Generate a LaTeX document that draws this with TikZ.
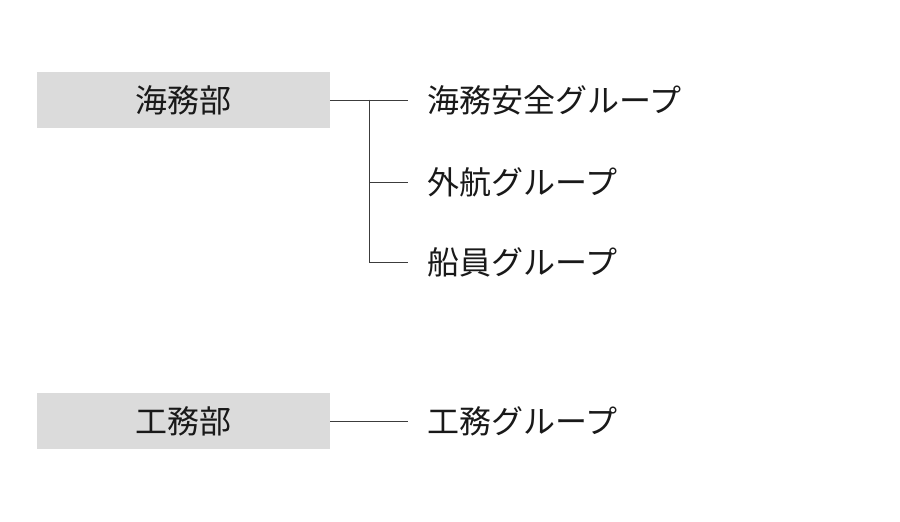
\documentclass[tikz,border=0pt]{standalone}
\usepackage{fontspec}
\setmainfont{Noto Sans CJK JP}
\definecolor{boxgray}{RGB}{219, 219, 219}
\definecolor{linegray}{RGB}{60, 60, 60}
\definecolor{inkblack}{RGB}{25, 25, 25}
\tikzset{
  dept/.style={fill=boxgray, minimum width=293pt, minimum height=56pt, inner sep=0pt,
               text=inkblack, font=\fontsize{32pt}{38pt}\selectfont},
  grp/.style={anchor=west, inner sep=0pt, outer xsep=19pt,
              text=inkblack, font=\fontsize{32pt}{38pt}\selectfont},
  conn/.style={draw=linegray, line width=0.9pt}
}
\begin{document}
\begin{tikzpicture}[x=1pt, y=1pt]
            \useasboundingbox (0, 0) rectangle (900, 522);
            \node[dept] (kaimu) at (183.5, 422.0) {海務部};
            \node[dept] (koumu) at (183.5, 100.5) {工務部};
            \node[grp]  (anzen)  at (408, 422.0) {海務安全グループ};
            \node[grp]  (gaikou) at (408, 340.0) {外航グループ};
            \node[grp]  (senin)  at (408, 260.0) {船員グループ};
            \node[grp]  (koumug) at (408, 100.5) {工務グループ};
            \coordinate (split) at (369, 422.0);
            \draw[conn] (kaimu.east) -- (anzen.west);
            \draw[conn] (split) |- (gaikou.west);
            \draw[conn] (split) |- (senin.west);
            \draw[conn] (koumu.east) -- (koumug.west);
        \end{tikzpicture}
\end{document}
